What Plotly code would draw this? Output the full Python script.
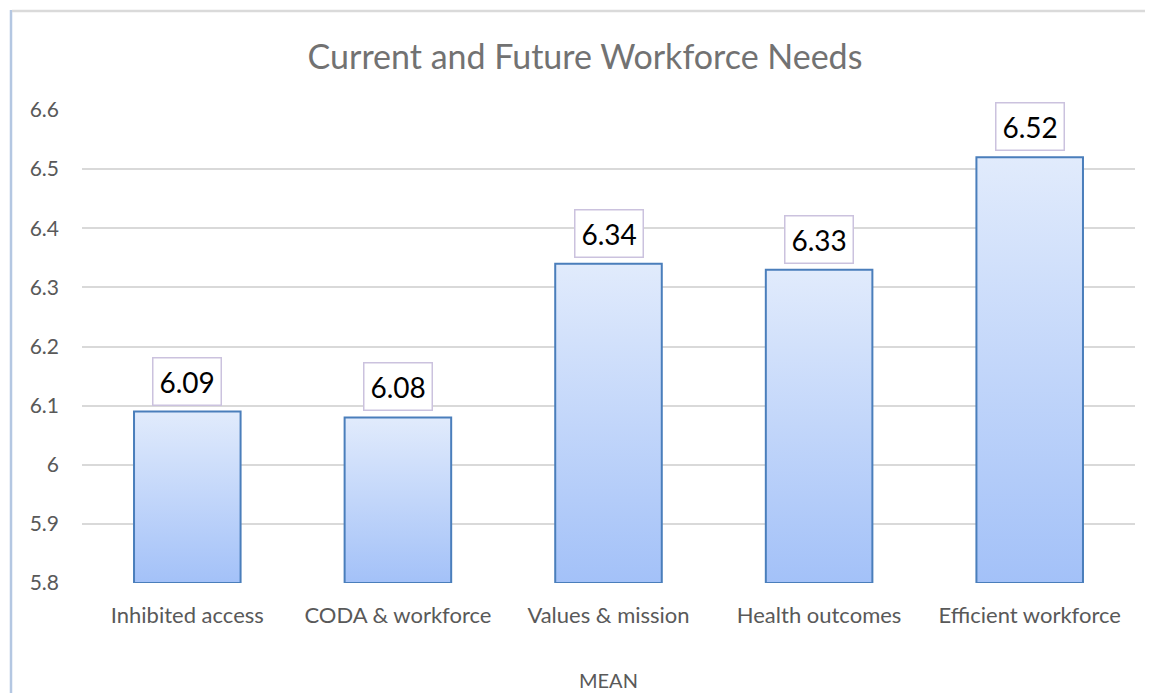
"""
Current and Future Workforce Needs - gráfico de barras con degradado
"""

import plotly.graph_objects as go

# Datos
categorias = ['Inhibited access', 'CODA & workforce', 'Values & mission',
              'Health outcomes', 'Efficient workforce']
medias = [6.09, 6.08, 6.34, 6.33, 6.52]
etiquetas = ['6.09', '6.08', '6.34', '6.33', '6.52']
y_min, y_max = 5.8, 6.6

# Lienzo (la página añade 8 px de margen arriba y a la izquierda)
OFF = 8
W, H = 1153 - OFF, 693 - OFF
M_L, M_R, M_T, M_B = 82 - OFF, 18, 110 - OFF, 110
FUENTE = 'Lato, "Open Sans", sans-serif'
GRIS = '#595959'


def px_a_paper_x(px):
    # px en coordenadas de la ventana
    return (px - OFF - M_L) / (W - M_L - M_R)


def px_a_paper_y(py):
    return (H - M_B - (py - OFF)) / (H - M_T - M_B)


fig = go.Figure()

# Barras con degradado vertical (scatter relleno, una por categoría)
media_ancho = 0.253
for i, v in enumerate(medias):
    fig.add_trace(go.Scatter(
        x=[i - media_ancho, i - media_ancho, i + media_ancho, i + media_ancho, i - media_ancho],
        y=[y_min, v, v, y_min, y_min],
        mode='lines',
        fill='toself',
        fillgradient=dict(type='vertical',
                          colorscale=[[0, '#a3c1f8'], [1, '#e1ebfc']]),
        line=dict(color='#4a7ebb', width=2),
        hoverinfo='skip',
        showlegend=False,
    ))

# Etiquetas de valor en recuadro
for i, (v, t) in enumerate(zip(medias, etiquetas)):
    fig.add_annotation(
        x=i, y=v, text=t, showarrow=False,
        yanchor='bottom', yshift=6,
        font=dict(family=FUENTE, size=28, color='#000000'),
        bgcolor='white', bordercolor='#cbc2de', borderwidth=1.5, borderpad=6,
    )

# Título del eje X
fig.add_annotation(
    x=0.5, y=px_a_paper_y(680), xref='paper', yref='paper',
    text='MEAN', showarrow=False, yanchor='middle',
    font=dict(family=FUENTE, size=20, color=GRIS),
)

# Marco del gráfico (bordes izquierdo y superior)
fig.add_shape(type='line', xref='paper', yref='paper',
              x0=px_a_paper_x(11), x1=px_a_paper_x(11),
              y0=px_a_paper_y(10), y1=px_a_paper_y(700),
              line=dict(color='#b4c7e2', width=2.5))
fig.add_shape(type='line', xref='paper', yref='paper',
              x0=px_a_paper_x(12), x1=px_a_paper_x(1160),
              y0=px_a_paper_y(11), y1=px_a_paper_y(11),
              line=dict(color='#dadada', width=2.5))

fig.update_layout(
    width=W, height=H,
    margin=dict(l=M_L, r=M_R, t=M_T, b=M_B),
    paper_bgcolor='white', plot_bgcolor='white',
    title=dict(text='Current and Future Workforce Needs',
               x=(585 - OFF) / W, xref='container', xanchor='center',
               y=1 - (57 - OFF) / H, yref='container', yanchor='middle',
               font=dict(family=FUENTE, size=34, color='#727272')),
    xaxis=dict(range=[-0.5, len(categorias) - 0.5],
               tickvals=list(range(len(categorias))), ticktext=categorias,
               showgrid=False, zeroline=False, showline=False,
               ticks='', ticklabelstandoff=17,
               tickfont=dict(family=FUENTE, size=22, color=GRIS)),
    yaxis=dict(range=[y_min, y_max], dtick=0.1, tick0=y_min,
               showgrid=True, gridcolor='#d9d9d9', gridwidth=1.5,
               zeroline=False, showline=False, ticks='',
               ticklabelstandoff=22,
               tickfont=dict(family=FUENTE, size=21, color=GRIS)),
    showlegend=False,
)

fig.write_html("out.html")
